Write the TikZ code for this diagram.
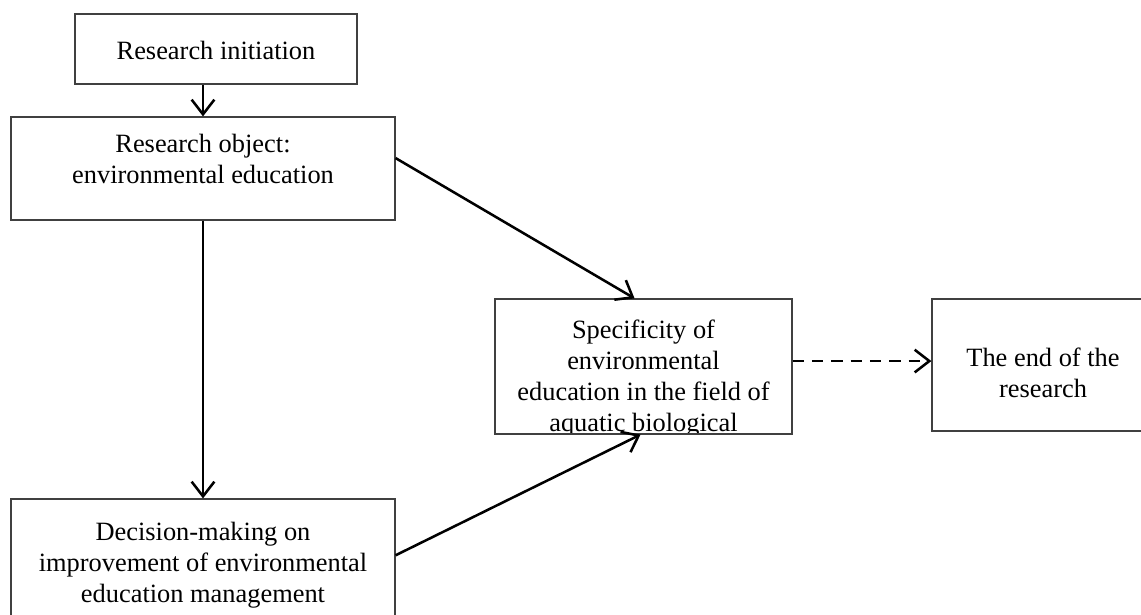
\documentclass[tikz,border=0pt]{standalone}
\usepackage{fontspec}
\setmainfont{Liberation Serif}
\usetikzlibrary{arrows.meta,positioning,calc}
\tikzset{
  stagebox/.style={draw=black!75, line width=0.9pt, inner sep=0pt},
  stagetext/.style={align=center, inner sep=0pt, anchor=north,
    font=\fontsize{19.8pt}{23.25pt}\selectfont},
  arr/.style={-{Straight Barb[length=11pt,width=17pt]}, line width=1.9pt},
  darr/.style={arr, dash pattern=on 8.5pt off 6pt},
}

\begin{document}
\begin{tikzpicture}[x=0.75pt, y=-0.75pt]
  \useasboundingbox (0,0) rectangle (1141,614);
  \clip (0,0) rectangle (1141,614);

  % Boxes
  \node[stagebox, minimum width=211.5pt, minimum height=52.5pt] (init) at (216,49) {};
  \node[stagebox, minimum width=288pt, minimum height=77.25pt] (obj) at (203,168.5) {};
  \node[stagebox, minimum width=222.75pt, minimum height=101.25pt] (spec) at (643.5,366.5) {};
  \node[stagebox, minimum width=166.5pt, minimum height=99pt] (end) at (1043,365) {};
  \node[stagebox, minimum width=288pt, minimum height=105.75pt] (dec) at (203,569.5) {};

  % Texts
  \node[stagetext] (inittxt) at (216,41) {Research initiation};
  \node[stagetext] (objtxt) at (203,134) {Research object:\\environmental education};
  \begin{scope}
    \clip (spec.north west) rectangle ($(spec.south east)+(0,-2)$);
    \node[stagetext] (spectxt) at (643.5,320)
      {Specificity of\\environmental\\education in the field of\\aquatic biological};
  \end{scope}
  \node[stagetext] (endtxt) at (1043,348) {The end of the\\research};
  \node[stagetext] (dectxt) at (203,522)
    {Decision-making on\\improvement of environmental\\education management};

  % Connectors
  \coordinate (dashstart) at ($(spec.north east)!0.46!(spec.south east)$);
  \draw[arr] (init.south -| obj.north) -- (obj.north);
  \draw[arr] (obj.south) -- (dec.north);
  \draw[arr] ($(obj.north east)!0.4!(obj.south east)$)
    -- ($(spec.north west)!0.47!(spec.north east)$);
  \draw[arr] ($(dec.north east)!0.4!(dec.south east)$)
    -- ($(spec.south west)!0.49!(spec.south east)$);
  \draw[darr] (dashstart) -- (dashstart -| end.west);
\end{tikzpicture}
\end{document}
